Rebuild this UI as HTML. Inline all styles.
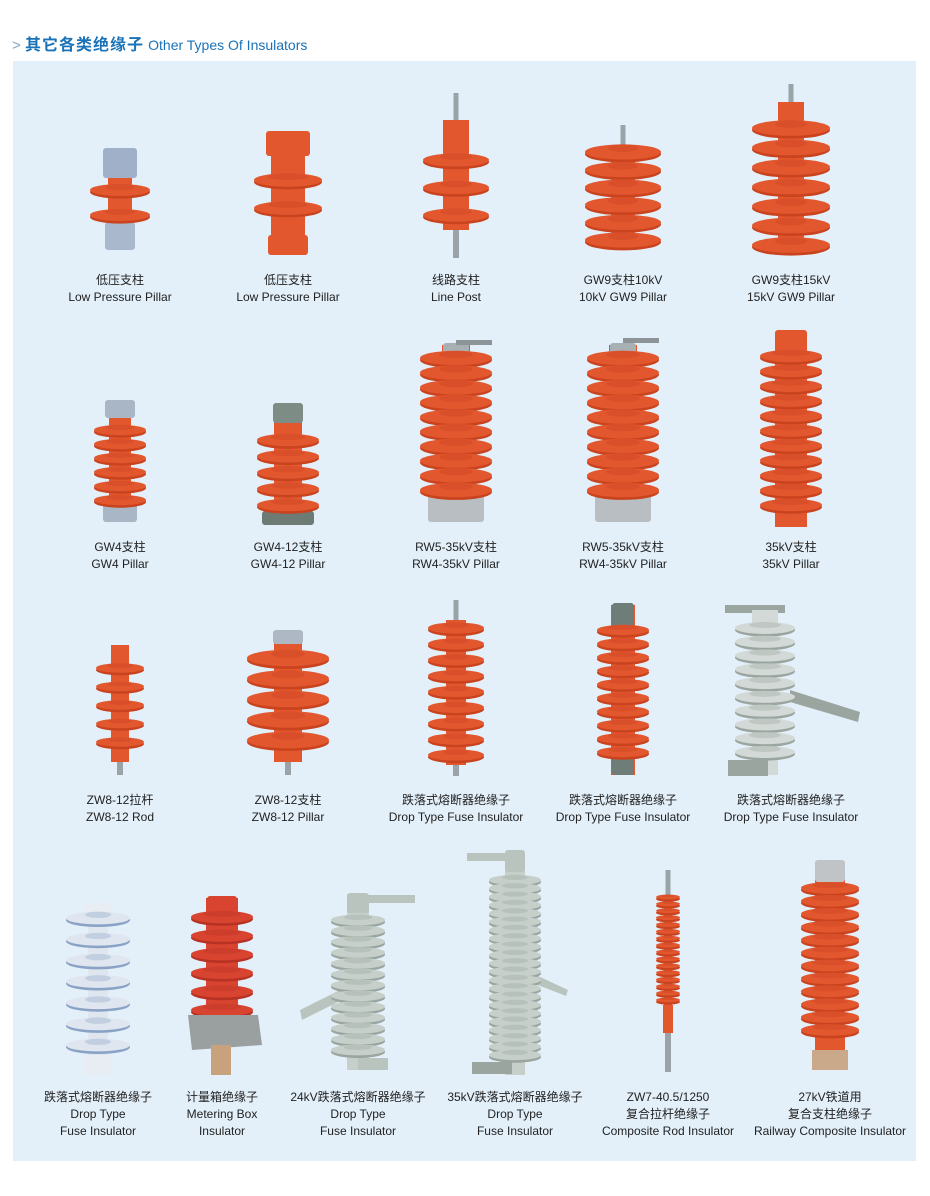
<!DOCTYPE html>
<html><head><meta charset="utf-8">
<style>
html,body{margin:0;padding:0;background:#fff;}
body{width:930px;height:1196px;position:relative;overflow:hidden;font-family:"Liberation Sans","Noto Sans CJK SC",sans-serif;}
#hdr{position:absolute;left:12px;top:31px;font-size:15px;color:#1a73b8;white-space:nowrap;}
#hdr .cn{font-weight:bold;font-size:16px;letter-spacing:1px;}
#hdr .ar{color:#8aa3b8;font-weight:normal;}
#hdr .en{font-size:14px;}
#panel{position:absolute;left:13px;top:61px;width:903px;height:1100px;background:#e3f0fa;}
.lb{position:absolute;font-size:12px;color:#222;text-align:center;line-height:17px;white-space:nowrap;transform:translateX(-50%);}
svg{position:absolute;left:0;top:0;}
</style></head><body>
<div id="hdr"><span class="ar">&gt;</span> <span class="cn">其它各类绝缘子</span> <span class="en">Other Types Of Insulators</span></div>
<div id="panel"></div>
<svg id="s" width="930" height="1196" xmlns="http://www.w3.org/2000/svg"></svg>
<div id="labels"></div>
<script>
var S=document.getElementById('s'),L=document.getElementById('labels');
function el(t,a){var e=document.createElementNS('http://www.w3.org/2000/svg',t);for(var k in a)e.setAttribute(k,a[k]);S.appendChild(e);return e;}
var OR='#e2572e',ORD='#c9431f',GR='#b9c4be',GRD='#9aa5a0',WB='#dfe6f0',WBD='#8aa2c6';
function ins(o){
 var c=o.x,col=o.c||OR,dk=o.d||ORD;
 if(o.rod){el('rect',{x:c-2.5,y:o.rod,width:5,height:o.t-o.rod+2,fill:'#9aa4a8'});}
 if(o.pin){el('rect',{x:c-3,y:o.b-2,width:6,height:o.pin-o.b+2,fill:'#9aa4a8'});}
 el('rect',{x:c-o.cw/2,y:o.t,width:o.cw,height:o.b-o.t,fill:col});
 if(o.topc){el('rect',{x:c-o.tw/2,y:o.t-2,width:o.tw,height:o.th,fill:o.topc,rx:3});}
 if(o.botc){el('rect',{x:c-o.bw/2,y:o.b-o.bh,width:o.bw,height:o.bh,fill:o.botc,rx:3});}
 var n=o.n;for(var i=0;i<n;i++){var y=o.s1+(n>1?(o.s2-o.s1)*i/(n-1):0);
  el('ellipse',{cx:c,cy:y+2,rx:o.w/2,ry:o.w*0.11,fill:dk});
  el('ellipse',{cx:c,cy:y,rx:o.w/2,ry:o.w*0.1,fill:col});
  el('ellipse',{cx:c,cy:y-o.w*0.05,rx:o.cw/2+3,ry:o.w*0.05,fill:dk,opacity:.35});}
}
function lab(x,y,lines){var d=document.createElement('div');d.className='lb';d.style.left=x+'px';d.style.top=y+'px';d.innerHTML=lines.join('<br>');L.appendChild(d);}
// Row 1
ins({x:120,t:150,b:250,cw:24,n:2,s1:190,s2:215,w:60,topc:'#9fb0c8',tw:34,th:30,botc:'#a9b8cc',bw:30,bh:28});
ins({x:288,t:133,b:255,cw:34,n:2,s1:180,s2:208,w:68,topc:OR,tw:44,th:25,botc:OR,bw:40,bh:20});
ins({x:456,t:120,b:230,cw:26,n:3,s1:160,s2:215,w:66,rod:93,pin:258});
ins({x:623,t:145,b:245,cw:24,n:6,s1:152,s2:240,w:76,rod:125});
ins({x:791,t:102,b:252,cw:26,n:7,s1:128,s2:245,w:78,rod:84});
lab(120,272,['低压支柱','Low Pressure Pillar']);lab(288,272,['低压支柱','Low Pressure Pillar']);
lab(456,272,['线路支柱','Line Post']);lab(623,272,['GW9支柱10kV','10kV GW9 Pillar']);lab(791,272,['GW9支柱15kV','15kV GW9 Pillar']);
// Row 2
ins({x:120,t:402,b:522,cw:22,n:6,s1:430,s2:500,w:52,topc:'#a8b6c6',tw:30,th:18,botc:'#a8b6c6',bw:34,bh:18});
ins({x:288,t:405,b:525,cw:28,n:5,s1:440,s2:505,w:62,topc:'#7d8c84',tw:30,th:20,botc:'#6e7a74',bw:52,bh:14});
ins({x:456,t:345,b:522,cw:28,n:10,s1:358,s2:490,w:72,topc:'#a9b0b4',tw:26,th:14,botc:'#b8bec2',bw:56,bh:28});
el('rect',{x:456,y:340,width:36,height:5,fill:'#8d9498'});
ins({x:623,t:345,b:522,cw:28,n:10,s1:358,s2:490,w:72,topc:'#a9b0b4',tw:26,th:14,botc:'#b8bec2',bw:56,bh:28});
el('rect',{x:623,y:338,width:36,height:5,fill:'#8d9498'});
ins({x:791,t:332,b:527,cw:32,n:11,s1:356,s2:505,w:62,topc:OR,tw:32,th:24});
lab(120,539,['GW4支柱','GW4 Pillar']);lab(288,539,['GW4-12支柱','GW4-12 Pillar']);
lab(456,539,['RW5-35kV支柱','RW4-35kV Pillar']);lab(623,539,['RW5-35kV支柱','RW4-35kV Pillar']);lab(791,539,['35kV支柱','35kV Pillar']);
// Row 3
ins({x:120,t:645,b:762,cw:18,n:5,s1:668,s2:742,w:48,pin:775});
ins({x:288,t:632,b:762,cw:28,n:5,s1:658,s2:740,w:82,topc:'#aeb8c4',tw:30,th:14,pin:775});
ins({x:456,t:620,b:765,cw:20,n:9,s1:628,s2:755,w:56,rod:600,pin:776});
ins({x:623,t:605,b:775,cw:24,n:10,s1:630,s2:752,w:52,topc:'#6f7d78',tw:22,th:26,botc:'#6f7d78',bw:22,bh:18});
el('rect',{x:725,y:605,width:60,height:8,fill:GRD});
el('polygon',{points:'790,690 860,712 858,722 790,702',fill:GRD});
ins({x:765,t:610,b:775,cw:26,n:10,s1:628,s2:752,w:60,c:'#d3d9d6',d:GRD});
el('rect',{x:728,y:760,width:40,height:16,fill:GRD});
lab(120,792,['ZW8-12拉杆','ZW8-12 Rod']);lab(288,792,['ZW8-12支柱','ZW8-12 Pillar']);
lab(456,792,['跌落式熔断器绝缘子','Drop Type Fuse Insulator']);lab(623,792,['跌落式熔断器绝缘子','Drop Type Fuse Insulator']);lab(791,792,['跌落式熔断器绝缘子','Drop Type Fuse Insulator']);
// Row 4
ins({x:98,t:905,b:1075,cw:20,n:7,s1:918,s2:1045,w:64,c:WB,d:WBD,topc:'#e8edf4',tw:28,th:16,botc:'#e8edf4',bw:28,bh:20});
ins({x:222,t:898,b:1018,cw:32,n:6,s1:917,s2:1010,w:62,c:'#d84430',d:'#b83224',topc:'#d84430',tw:30,th:14});
el('polygon',{points:'188,1015 258,1015 262,1045 192,1050',fill:'#9aa0a0'});
el('rect',{x:211,y:1045,width:20,height:30,fill:'#c8a27c'});
el('polygon',{points:'300,1010 350,985 352,995 302,1020',fill:GR});
el('rect',{x:360,y:895,width:55,height:8,fill:GR});
ins({x:358,t:895,b:1070,cw:22,n:13,s1:920,s2:1050,w:54,c:'#c6cfca',d:GRD,topc:GR,tw:22,th:20});
el('rect',{x:358,y:1058,width:30,height:12,fill:GR});
el('rect',{x:467,y:853,width:40,height:8,fill:GR});
el('polygon',{points:'525,970 568,990 566,996 525,980',fill:GR});
ins({x:515,t:852,b:1075,cw:20,n:22,s1:880,s2:1055,w:52,c:'#c6cfca',d:GRD,topc:GR,tw:20,th:22});
el('rect',{x:472,y:1062,width:40,height:12,fill:GRD});
ins({x:668,t:895,b:1010,cw:8,n:16,s1:897,s2:1000,w:24,rod:870,pin:1072});
el('rect',{x:663,y:1005,width:10,height:28,fill:OR});
ins({x:830,t:862,b:1060,cw:30,n:12,s1:888,s2:1030,w:58,topc:'#c0c4c6',tw:30,th:22});
el('rect',{x:812,y:1050,width:36,height:20,fill:'#c9a98a'});
lab(98,1089,['跌落式熔断器绝缘子','Drop Type','Fuse Insulator']);lab(222,1089,['计量箱绝缘子','Metering Box','Insulator']);
lab(358,1089,['24kV跌落式熔断器绝缘子','Drop Type','Fuse Insulator']);lab(515,1089,['35kV跌落式熔断器绝缘子','Drop Type','Fuse Insulator']);
lab(668,1089,['ZW7-40.5/1250','复合拉杆绝缘子','Composite Rod Insulator']);lab(830,1089,['27kV铁道用','复合支柱绝缘子','Railway Composite Insulator']);
</script>
</body></html>
